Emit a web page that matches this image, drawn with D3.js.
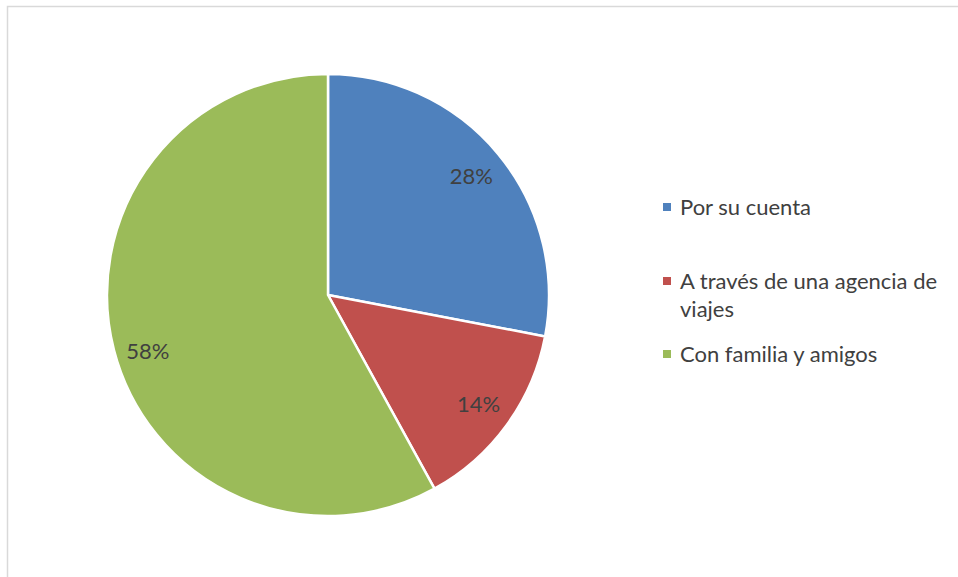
<!DOCTYPE html>
<html>
<head>
<meta charset="utf-8">
<script src="https://cdn.jsdelivr.net/npm/d3@7"></script>
<style>
  body { margin: 0; background: #fff; }
  text { font-family: Lato, "Open Sans", sans-serif; fill: #404040; }
</style>
</head>
<body>
<svg id="viz" width="958" height="577"></svg>
<script>
var categories = ["Por su cuenta", "A través de una agencia de viajes", "Con familia y amigos"];
var legendLines = [["Por su cuenta"], ["A través de una agencia de", "viajes"], ["Con familia y amigos"]];
var values = [28, 14, 58];
var colors = ["#4f81bd", "#c0504d", "#9bbb59"];

var width = 958, height = 577;
var cx = 328, cy = 295, radius = 221;
var FONT_SIZE = 22;

var svg = d3.select("#viz");

// chart frame (only top and left edges fall inside the window)
svg.append("rect")
    .attr("x", 7.5).attr("y", 6.5)
    .attr("width", 1000).attr("height", 1000)
    .attr("fill", "none")
    .attr("stroke", "#d9d9d9")
    .attr("stroke-width", 1.5);

var pie = d3.pie().sort(null).value(function(d) { return d; });
var arc = d3.arc().innerRadius(0).outerRadius(radius);
var labelArc = d3.arc().innerRadius(186).outerRadius(186);

var g = svg.append("g").attr("transform", "translate(" + cx + "," + cy + ")");

var arcs = pie(values);

g.selectAll("path")
    .data(arcs)
    .enter()
    .append("path")
    .attr("d", arc)
    .attr("fill", function(d, i) { return colors[i]; })
    .attr("stroke", "#fff")
    .attr("stroke-width", 2.5)
    .attr("stroke-linejoin", "round");

// best-fit nudge, excel puts the big slice label a bit lower
var labelNudge = [0, 0, 10];

g.selectAll("text.lbl")
    .data(arcs)
    .enter()
    .append("text")
    .attr("class", "lbl")
    .attr("transform", function(d, i) {
        var c = labelArc.centroid(d);
        return "translate(" + c[0] + "," + (c[1] + labelNudge[i]) + ")";
    })
    .attr("text-anchor", "middle")
    .attr("dy", "0.35em")
    .style("font-size", FONT_SIZE + "px")
    .text(function(d) { return d.data + "%"; });

// legend
var legendY = [207, 281, 354];
var legend = svg.append("g");
legendLines.forEach(function(lines, i) {
    legend.append("rect")
        .attr("x", 663).attr("y", legendY[i] - 4)
        .attr("width", 8).attr("height", 8)
        .attr("fill", colors[i]);
    var t = legend.append("text")
        .attr("x", 680).attr("y", legendY[i])
        .style("font-size", FONT_SIZE + "px");
    lines.forEach(function(line, j) {
        t.append("tspan")
            .attr("x", 680)
            .attr("dy", j == 0 ? "0.35em" : "28px")
            .text(line);
    });
});
</script>
</body>
</html>
